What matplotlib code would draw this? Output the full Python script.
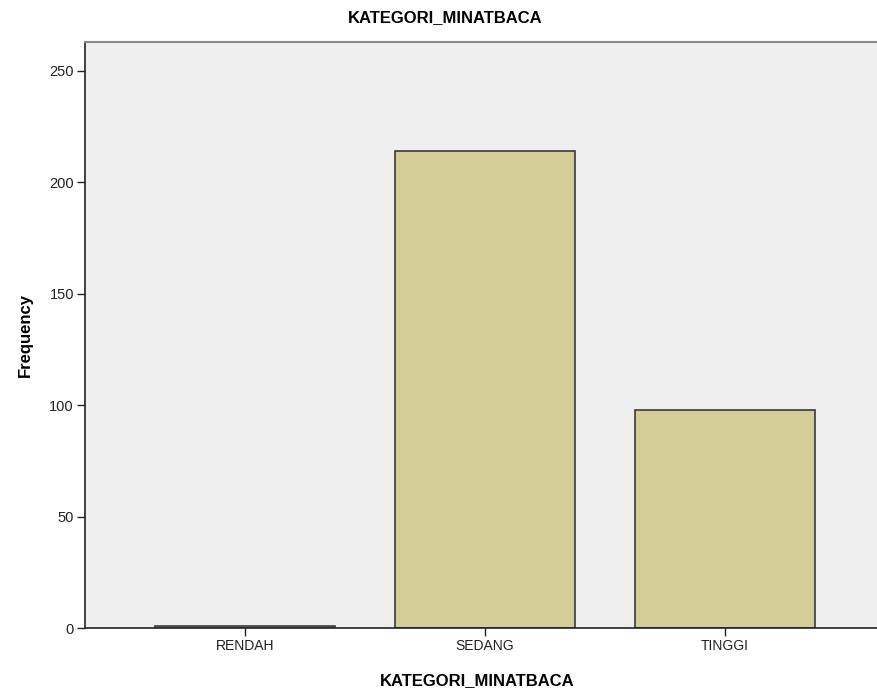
import matplotlib
matplotlib.use("Agg")
import matplotlib.pyplot as plt

categories = ["RENDAH", "SEDANG", "TINGGI"]
frequency = [1, 214, 98]
y_ticks = [0, 50, 100, 150, 200, 250]

plt.rcParams['font.family'] = ['Liberation Sans', 'DejaVu Sans']

fig = plt.figure(figsize=(8.78, 6.98), dpi=100)
ax = fig.add_axes([85/878, 70/698, 1 - 85/878, 586/698])
ax.set_facecolor('#efefef')

x = list(range(len(categories)))
ax.bar(x, frequency, width=0.75, color='#d3ce97', edgecolor='#3a3a3a', linewidth=1.2, zorder=2)

ax.set_xlim(-0.667, 2.637)
ax.set_ylim(0, 263)
ax.set_xticks(x)
ax.set_xticklabels(categories, fontsize=10, color='#222222')
ax.set_yticks(y_ticks)
ax.set_yticklabels([str(v) for v in y_ticks], fontsize=10.5, color='#222222')
ax.tick_params(axis='both', direction='out', length=6, width=1, color='#222222', pad=2)

ax.spines['right'].set_visible(False)
ax.spines['top'].set_color('#8a8a8a')
ax.spines['top'].set_linewidth(1.5)
ax.spines['left'].set_color('#222222')
ax.spines['bottom'].set_color('#222222')
ax.spines['left'].set_linewidth(1.2)
ax.spines['bottom'].set_linewidth(1.2)

fig.text(445/878, 1 - 18/698, 'KATEGORI_MINATBACA', ha='center', va='center',
         fontsize=12, fontweight='bold')
fig.text(477/878, 1 - 681/698, 'KATEGORI_MINATBACA', ha='center', va='center',
         fontsize=12, fontweight='bold')
fig.text(25/878, 1 - 335/698, 'Frequency', ha='center', va='center',
         fontsize=12, fontweight='bold', rotation=90)

fig.savefig('out.png', dpi=100)
